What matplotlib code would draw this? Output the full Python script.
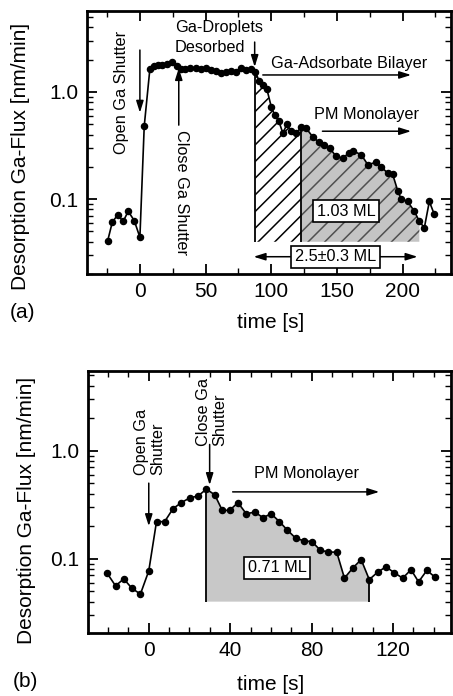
# Ga desorption flux, panels (a) and (b)

import numpy as np
import matplotlib
matplotlib.use("Agg")
import matplotlib.pyplot as plt
from matplotlib.ticker import MultipleLocator, FixedLocator, LogLocator, NullFormatter

plt.rcParams['font.family'] = ['Liberation Sans', 'DejaVu Sans']
plt.rcParams['hatch.linewidth'] = 1.1

# panel (a)
t_a = [-24.5, -21, -17, -12.7, -8.9, -4.3, 0, 3.3, 7.6, 10.9, 13.9, 17.2, 20.3, 24.6,
       27.9, 31.2, 34.2, 38, 43.1, 46.9, 50.7, 54.5, 58.3, 62.1, 65.9, 69.7, 73.5,
       77.3, 81.1, 84.3, 87.9, 90.7, 93.5, 96.7, 100, 102.6, 105.9, 108.9, 111.9,
       115.3, 119, 122.9, 126.5, 131.7, 136.3, 140.5, 144.4, 149.5, 154.5, 159,
       162.6, 168.5, 173.5, 179.8, 183.6, 188.7, 192.5, 196.3, 199, 203.9, 209,
       212.8, 216.6, 220.4, 224.2]
flux_a = [0.041, 0.061, 0.071, 0.062, 0.077, 0.063, 0.044, 0.48, 1.64, 1.76, 1.79,
          1.80, 1.82, 1.92, 1.76, 1.64, 1.64, 1.66, 1.69, 1.64, 1.69, 1.60, 1.57,
          1.49, 1.55, 1.57, 1.55, 1.66, 1.59, 1.64, 1.55, 1.27, 1.15, 1.06, 0.73,
          0.61, 0.53, 0.41, 0.50, 0.43, 0.41, 0.47, 0.46, 0.38, 0.34, 0.32, 0.30,
          0.25, 0.24, 0.27, 0.28, 0.26, 0.21, 0.22, 0.20, 0.175, 0.17, 0.12, 0.10,
          0.095, 0.077, 0.062, 0.054, 0.095, 0.072]
bilayer_a = (87.9, 122.9)
mono_a = (122.9, 212.8)

# panel (b)
t_b = [-20.4, -16.3, -12.3, -8.2, -4.1, 0, 3.8, 7.8, 11.9, 16, 20.1, 24.2, 28.3,
       32.4, 36.1, 39.7, 43.8, 47.9, 52, 56.1, 60.1, 64.2, 67.8, 72.1, 76.2, 80.1,
       84.2, 88.2, 92.3, 96.1, 100.2, 104.3, 108.3, 112.4, 116.5, 120.6, 124.7,
       128.8, 132.5, 136.6, 140.7]
flux_b = [0.073, 0.056, 0.065, 0.053, 0.047, 0.077, 0.22, 0.22, 0.29, 0.33, 0.365,
          0.38, 0.44, 0.39, 0.28, 0.28, 0.33, 0.26, 0.27, 0.24, 0.26, 0.22, 0.186,
          0.155, 0.146, 0.144, 0.12, 0.115, 0.115, 0.066, 0.082, 0.098, 0.064,
          0.075, 0.084, 0.074, 0.066, 0.079, 0.061, 0.078, 0.067]
mono_b = (28.3, 108.3)

fill_floor = 0.04

fig = plt.figure(figsize=(4.53, 6.96), dpi=100)
ax_a = fig.add_axes([0.192, 0.6063, 0.803, 0.378])
ax_b = fig.add_axes([0.194, 0.0905, 0.801, 0.377])

arr = dict(arrowstyle='-|>,head_length=0.7,head_width=0.22', color='k', lw=1.1,
           shrinkA=0, shrinkB=0)
arr2 = dict(arrowstyle='<|-|>,head_length=0.7,head_width=0.22', color='k', lw=1.1,
            shrinkA=0, shrinkB=0)
box = dict(boxstyle='square,pad=0.22', fc='white', ec='black', lw=1.2)
fs_note = 11.7
fs_lab = 15


def style_axes(ax, xlim, ylim, major, minor):
    ax.set_yscale('log')
    ax.set_xlim(*xlim)
    ax.set_ylim(*ylim)
    ax.xaxis.set_major_locator(MultipleLocator(major))
    ax.xaxis.set_minor_locator(MultipleLocator(minor))
    ax.yaxis.set_major_locator(FixedLocator([0.1, 1.0]))
    ax.yaxis.set_minor_locator(LogLocator(subs=np.arange(2, 10)))
    ax.yaxis.set_minor_formatter(NullFormatter())
    ax.set_yticklabels(['0.1', '1.0'])
    ax.tick_params(which='both', direction='in', top=True, right=True, labelsize=fs_lab)
    ax.tick_params(which='major', length=7, width=1.3)
    ax.tick_params(which='minor', length=4, width=1.0)
    ax.tick_params(axis='x', pad=6)
    ax.tick_params(axis='y', pad=6)
    for s in ax.spines.values():
        s.set_linewidth(2)


def fill_region(ax, t, f, lo, hi, **kw):
    t = np.asarray(t)
    f = np.asarray(f)
    m = (t >= lo - 1e-6) & (t <= hi + 1e-6)
    ax.fill_between(t[m], fill_floor, f[m], linewidth=0, zorder=1, **kw)


# ---- (a)
ax = ax_a
fill_region(ax, t_a, flux_a, *bilayer_a, facecolor='white', edgecolor='black', hatch='//')
fill_region(ax, t_a, flux_a, *mono_a, facecolor='#c4c4c4', edgecolor='#505050', hatch='//')
ta = np.asarray(t_a)
fa = np.asarray(flux_a)
for xb in bilayer_a:
    ax.vlines(xb, fill_floor, fa[np.argmin(abs(ta - xb))], color='k', lw=1.3, zorder=2)
ax.plot(t_a, flux_a, '-o', color='k', lw=1.2, ms=4.4, zorder=3)
style_axes(ax, (-40.3, 236.7), (0.02, 5.7), 50, 25)

ax.annotate('', xy=(0, 0.64), xytext=(0, 2.46), arrowprops=arr)
ax.text(-13.9, 0.98, 'Open Ga Shutter', rotation=90, ha='center', va='center', fontsize=fs_note)
ax.annotate('', xy=(29.6, 1.67), xytext=(29.6, 0.49), arrowprops=arr)
ax.text(31.7, 0.115, 'Close Ga Shutter', rotation=-90, ha='center', va='center', fontsize=fs_note)
ax.annotate('', xy=(87.4, 1.71), xytext=(87.4, 2.92), arrowprops=arr)
ax.text(26.6, 3.2, 'Ga-Droplets\nDesorbed', ha='left', va='center', fontsize=fs_note,
        linespacing=1.4)
ax.annotate('', xy=(206.5, 1.44), xytext=(93.6, 1.44), arrowprops=arr)
ax.text(159.6, 1.86, 'Ga-Adsorbate Bilayer', ha='center', va='center', fontsize=fs_note)
ax.annotate('', xy=(206.5, 0.43), xytext=(139, 0.43), arrowprops=arr)
ax.text(172.5, 0.61, 'PM Monolayer', ha='center', va='center', fontsize=fs_note)
ax.text(157, 0.077, '1.03 ML', ha='center', va='center', fontsize=fs_note, bbox=box, zorder=4)
ax.annotate('', xy=(211.4, 0.029), xytext=(86.6, 0.029), arrowprops=arr2)
ax.text(149, 0.029, '2.5\u00b10.3 ML', ha='center', va='center', fontsize=fs_note, bbox=box, zorder=4)

ax.text(-0.183, 0.446, 'Desorption Ga-Flux [nm/min]', transform=ax.transAxes,
        rotation=90, ha='center', va='center', fontsize=fs_lab)
ax.text(0.505, -0.186, 'time [s]', transform=ax.transAxes, ha='center', va='center', fontsize=fs_lab)
ax.text(-0.178, -0.148, '(a)', transform=ax.transAxes, ha='center', va='center', fontsize=fs_lab)

# ---- (b)
ax = ax_b
fill_region(ax, t_b, flux_b, *mono_b, facecolor='#c8c8c8', edgecolor='none')
tb = np.asarray(t_b)
fb = np.asarray(flux_b)
for xb in mono_b:
    ax.vlines(xb, fill_floor, fb[np.argmin(abs(tb - xb))], color='k', lw=1.3, zorder=2)
ax.plot(t_b, flux_b, '-o', color='k', lw=1.2, ms=4.4, zorder=3)
style_axes(ax, (-29.9, 148.3), (0.0205, 5.5), 40, 10)

ax.annotate('', xy=(0, 0.2), xytext=(0, 0.5), arrowprops=arr)
ax.text(0.5, 1.2, 'Open Ga\nShutter', rotation=90, ha='center', va='center',
        multialignment='left', fontsize=fs_note, linespacing=1.1)
ax.annotate('', xy=(29.9, 0.48), xytext=(29.9, 1.14), arrowprops=arr)
ax.text(30.7, 2.28, 'Close Ga\nShutter', rotation=90, ha='center', va='center',
        multialignment='left', fontsize=fs_note, linespacing=1.1)
ax.annotate('', xy=(113.2, 0.415), xytext=(41.2, 0.415), arrowprops=arr)
ax.text(77.3, 0.62, 'PM Monolayer', ha='center', va='center', fontsize=fs_note)
ax.text(63.1, 0.082, '0.71 ML', ha='center', va='center', fontsize=fs_note, bbox=box, zorder=4)

ax.text(-0.17, 0.469, 'Desorption Ga-Flux [nm/min]', transform=ax.transAxes,
        rotation=90, ha='center', va='center', fontsize=fs_lab)
ax.text(0.504, -0.198, 'time [s]', transform=ax.transAxes, ha='center', va='center', fontsize=fs_lab)
ax.text(-0.173, -0.183, '(b)', transform=ax.transAxes, ha='center', va='center', fontsize=fs_lab)

fig.savefig('out.png', dpi=100)
